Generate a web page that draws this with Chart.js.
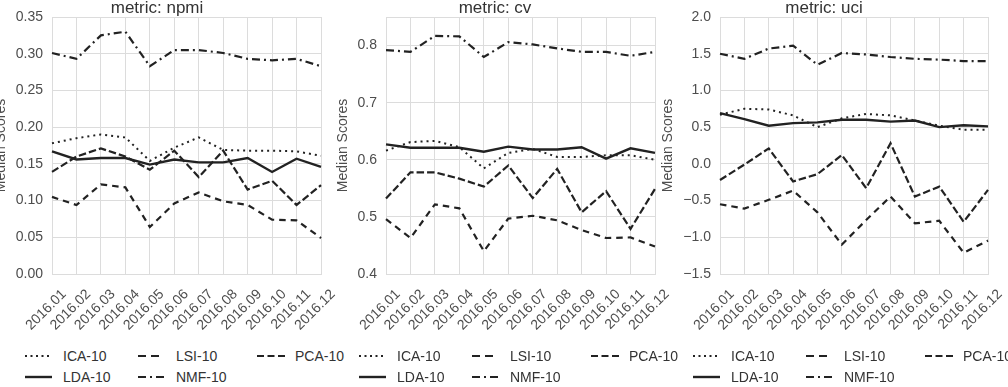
<!DOCTYPE html>
<html><head><meta charset="utf-8">
<script src="https://cdn.jsdelivr.net/npm/chart.js@4.4.0/dist/chart.umd.min.js"></script>
<style>
html,body{margin:0;padding:0;background:#fff;}
#wrap{position:relative;width:1008px;height:387px;overflow:hidden;font-family:"Liberation Sans",Arial,sans-serif;}
canvas{position:absolute;}
.item{position:absolute;height:16px;font-size:14px;line-height:16px;color:#333;white-space:nowrap;}
.item svg{position:absolute;left:0;top:3px;}
.item span{position:absolute;left:38px;top:0;}
</style></head>
<body><div id="wrap"></div>
<script>
// ---- data ----
const months = ['2016.01','2016.02','2016.03','2016.04','2016.05','2016.06','2016.07','2016.08','2016.09','2016.10','2016.11','2016.12'];
const seriesNames = ['ICA-10','LDA-10','LSI-10','NMF-10','PCA-10'];
const metricTitles = ['metric: npmi','metric: cv','metric: uci'];
const yAxisLabel = 'Median Scores';

const npmiICA = [0.178,0.185,0.190,0.186,0.154,0.172,0.186,0.169,0.168,0.168,0.167,0.161];
const npmiLDA = [0.167,0.156,0.158,0.158,0.149,0.156,0.152,0.152,0.158,0.139,0.157,0.146];
const npmiLSI = [0.105,0.094,0.122,0.118,0.064,0.096,0.111,0.099,0.094,0.074,0.073,0.049];
const npmiNMF = [0.301,0.293,0.325,0.330,0.283,0.305,0.305,0.301,0.293,0.291,0.293,0.283];
const npmiPCA = [0.139,0.160,0.171,0.160,0.142,0.168,0.132,0.168,0.115,0.127,0.094,0.121];

const cvICA = [0.616,0.631,0.633,0.622,0.585,0.612,0.619,0.605,0.605,0.608,0.608,0.600];
const cvLDA = [0.627,0.621,0.621,0.621,0.614,0.623,0.618,0.618,0.622,0.602,0.620,0.612];
const cvLSI = [0.496,0.463,0.522,0.515,0.440,0.497,0.502,0.494,0.477,0.463,0.464,0.448];
const cvNMF = [0.792,0.789,0.817,0.816,0.780,0.806,0.802,0.795,0.789,0.789,0.782,0.789];
const cvPCA = [0.532,0.578,0.578,0.567,0.553,0.590,0.533,0.584,0.508,0.545,0.479,0.549];

const uciICA = [0.67,0.75,0.74,0.66,0.50,0.62,0.68,0.66,0.59,0.52,0.465,0.465];
const uciLDA = [0.69,0.61,0.52,0.555,0.565,0.60,0.60,0.575,0.59,0.50,0.525,0.51];
const uciLSI = [-0.55,-0.61,-0.49,-0.365,-0.66,-1.10,-0.765,-0.445,-0.81,-0.775,-1.21,-1.045];
const uciNMF = [1.50,1.43,1.57,1.61,1.35,1.51,1.49,1.455,1.43,1.42,1.40,1.40];
const uciPCA = [-0.22,-0.01,0.21,-0.24,-0.14,0.12,-0.33,0.28,-0.445,-0.31,-0.79,-0.355];

const npmiTicks = {min:0, max:0.35, step:0.05, decimals:2};
const cvTicks = {min:0.4, max:0.85, step:0.1, decimals:1};
const uciTicks = {min:-1.5, max:2.0, step:0.5, decimals:1};

// ---- styling ----
const lineColor = '#222';
const styles = {
  'ICA-10': {dash:[2,4], width:2, legDash:[2,3.5], legLen:27},
  'LDA-10': {dash:[], width:2.4, legDash:[], legLen:27},
  'LSI-10': {dash:[6.5,5], width:2.2, legDash:[8,5], legLen:21},
  'NMF-10': {dash:[8,4,2,4], width:2.2, legDash:[8,4,2,4], legLen:26},
  'PCA-10': {dash:[7.5,3], width:2.2, legDash:[7,3.5], legLen:28}
};
const gridColor = '#dcdcdc';
const tickColor = '#4d4d4d';
const FONT = '"Liberation Sans", Arial, sans-serif';

const panels = [
  {title:metricTitles[0], series:[npmiICA,npmiLDA,npmiLSI,npmiNMF,npmiPCA], ticks:npmiTicks, canvasLeft:-7, plotLeft:52, plotRight:321},
  {title:metricTitles[1], series:[cvICA,cvLDA,cvLSI,cvNMF,cvPCA], ticks:cvTicks, canvasLeft:335, plotLeft:386, plotRight:655},
  {title:metricTitles[2], series:[uciICA,uciLDA,uciLSI,uciNMF,uciPCA], ticks:uciTicks, canvasLeft:660, plotLeft:720, plotRight:988}
];

const canvasTop = -2, canvasH = 338, xAxisH = 62, rightPad = 24;
const wrap = document.getElementById('wrap');

panels.forEach(p => {
  const c = document.createElement('canvas');
  const W = p.plotRight + rightPad - p.canvasLeft;
  c.width = W; c.height = canvasH;
  c.style.left = p.canvasLeft + 'px';
  c.style.top = canvasTop + 'px';
  c.style.width = W + 'px'; c.style.height = canvasH + 'px';
  wrap.appendChild(c);
  const yW = p.plotLeft - p.canvasLeft;
  const t = p.ticks;
  new Chart(c.getContext('2d'), {
    type: 'line',
    data: {
      labels: months,
      datasets: seriesNames.map((n, i) => ({
        label: n,
        data: p.series[i],
        borderColor: lineColor,
        borderWidth: styles[n].width,
        borderDash: styles[n].dash,
        pointRadius: 0,
        tension: 0,
        fill: false
      }))
    },
    options: {
      responsive: false,
      animation: false,
      devicePixelRatio: 1,
      layout: {padding: {left: 0, right: rightPad, top: 0, bottom: 0}},
      plugins: {
        legend: {display: false},
        tooltip: {enabled: false},
        title: {display: true, text: p.title, color: '#333',
                font: {family: FONT, size: 17, weight: 'normal', lineHeight: 1.0},
                padding: {top: 2, bottom: 0}}
      },
      scales: {
        x: {
          grid: {color: gridColor, drawTicks: false, lineWidth: 1},
          border: {display: true, color: gridColor},
          ticks: {autoSkip: false, maxRotation: 45, minRotation: 45, labelOffset: 12, padding: 12,
                  color: tickColor, font: {family: FONT, size: 14}},
          afterFit: s => { s.height = xAxisH; }
        },
        y: {
          min: t.min, max: t.max,
          grid: {color: gridColor, drawTicks: false, lineWidth: 1},
          border: {display: true, color: gridColor},
          title: {display: true, text: yAxisLabel, color: tickColor, padding: 0,
                  font: {family: FONT, size: 14}},
          ticks: {stepSize: t.step, padding: 9, color: tickColor, font: {family: FONT, size: 14},
                  callback: v => {
                    const k = (v - t.min) / t.step;
                    if (Math.abs(k - Math.round(k)) > 1e-6) return '';
                    return v.toFixed(t.decimals).replace('-', '\u2212');
                  }},
          afterFit: s => { s.width = yW; }
        }
      }
    }
  });

  // legend (column-major, 3 columns)
  const legLeft = p.plotLeft - 27;
  const colX = [0, 113, 232];
  const rowY = [348, 369];
  const placement = [[0,0],[0,1],[1,0],[1,1],[2,0]];
  seriesNames.forEach((n, i) => {
    const [ci, ri] = placement[i];
    const d = document.createElement('div');
    d.className = 'item';
    d.style.left = (legLeft + colX[ci]) + 'px';
    d.style.top = rowY[ri] + 'px';
    d.style.width = '90px';
    const st = styles[n];
    const svgNS = 'http://www.w3.org/2000/svg';
    const svg = document.createElementNS(svgNS, 'svg');
    svg.setAttribute('width', '30'); svg.setAttribute('height', '10');
    const ln = document.createElementNS(svgNS, 'line');
    ln.setAttribute('x1', '0'); ln.setAttribute('x2', String(st.legLen));
    ln.setAttribute('y1', '5'); ln.setAttribute('y2', '5');
    ln.setAttribute('stroke', lineColor);
    ln.setAttribute('stroke-width', st.width);
    if (st.legDash.length) ln.setAttribute('stroke-dasharray', st.legDash.join(','));
    svg.appendChild(ln);
    d.appendChild(svg);
    const sp = document.createElement('span');
    sp.textContent = n;
    d.appendChild(sp);
    wrap.appendChild(d);
  });
});
</script>
</body></html>
